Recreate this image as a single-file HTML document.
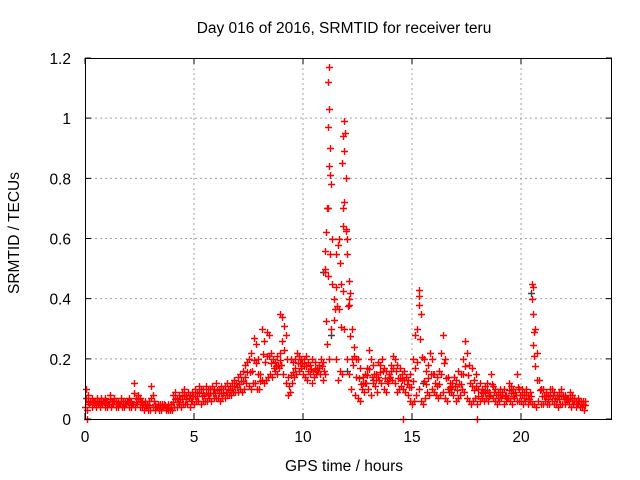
<!DOCTYPE html>
<html><head><meta charset="utf-8"><style>
html,body{margin:0;padding:0;background:#fff;}
svg{display:block;font-family:"Liberation Sans",sans-serif;}
</style></head><body>
<svg id="chart" width="640" height="480" viewBox="0 0 640 480">
<text x="344" y="33" text-anchor="middle" font-size="15.5" fill="#000">Day 016 of 2016, SRMTID for receiver teru</text>
<text x="344" y="471" text-anchor="middle" font-size="15.5" fill="#000">GPS time / hours</text>
<text transform="translate(19,233) rotate(-90)" text-anchor="middle" font-size="15.5" fill="#000">SRMTID / TECUs</text>
<g id="grid"></g><g id="marks"></g><g id="axes"></g>
</svg>
<script>
const xTicks=[0,5,10,15,20];
const yTicks=[0,0.2,0.4,0.6,0.8,1,1.2];
const yTickLabels=["0","0.2","0.4","0.6","0.8","1","1.2"];
const tStart=0, tStep=0.1;
const seriesA=[0.04,0.03,0.05,0.04,0.05,0.04,0.05,0.04,0.05,0.04,0.04,0.05,0.04,0.05,0.04,0.04,0.05,0.04,0.04,0.05,0.04,0.04,0.05,0.04,0.05,0.04,0.04,0.03,0.04,0.03,0.03,0.04,0.03,0.04,0.03,0.03,0.04,0.03,0.03,0.03,
0.03,0.04,0.04,0.05,0.04,0.05,0.05,0.05,0.04,0.06,0.05,0.06,0.06,0.05,0.06,0.06,0.06,0.07,0.06,0.07,0.07,0.07,0.06,0.07,0.07,0.08,0.08,0.08,0.09,0.09,
0.09,0.1,0.09,0.1,0.12,0.11,0.1,0.12,0.12,0.1,0.1,0.13,0.12,0.13,0.14,0.15,0.14,0.16,0.15,0.17,
0.18,0.15,0.12,0.08,0.09,0.12,0.14,0.15,0.16,0.17,0.15,0.14,0.13,0.15,0.12,0.14,0.15,0.16,0.15,0.13,
0.15,0.25,0.2,0.3,0.33,0.2,0.13,0.16,0.15,0.3,0.2,0.15,0.1,0.18,0.08,
0.07,0.06,0.1,0.09,0.12,0.1,0.08,0.12,0.11,0.09,0.13,0.12,0.1,0.09,0.12,0.14,0.13,0.12,0.09,0.1,0.11,0.1,0.09,0.08,0.06,
0.05,0.06,0.08,0.1,0.06,0.05,0.07,0.09,0.08,0.1,0.09,0.08,0.07,0.08,0.09,0.07,0.06,0.09,0.1,0.08,0.06,0.07,0.08,0.1,0.09,0.07,0.06,0.05,0.06,0.07,
0.05,0.06,0.07,0.06,0.07,0.06,0.08,0.07,0.06,0.05,0.06,0.07,0.05,0.06,0.07,0.06,0.05,0.07,0.06,0.06,0.06,0.05,0.06,0.05,0.06,0.05,0.05,0.04,0.06,0.05,0.05,0.06,0.05,0.05,0.06,0.05,0.05,0.04,0.05,0.05,0.05,0.06,0.05,0.04,0.05,0.04,0.05,0.04,0.04,0.03];
const seriesB=[0.1,0.08,0.06,0.07,0.06,0.07,0.06,0.07,0.06,0.07,0.06,0.08,0.06,0.07,0.06,0.06,0.07,0.06,0.06,0.06,0.07,0.06,0.12,0.07,0.08,0.07,0.06,0.06,0.05,0.06,0.11,0.08,0.05,0.05,0.05,0.05,0.05,0.04,0.05,0.05,
0.08,0.09,0.07,0.08,0.09,0.1,0.08,0.09,0.08,0.09,0.1,0.09,0.11,0.1,0.1,0.11,0.1,0.1,0.11,0.1,0.12,0.1,0.11,0.1,0.11,0.12,0.11,0.12,0.13,0.12,
0.14,0.15,0.16,0.18,0.19,0.2,0.22,0.27,0.25,0.2,0.15,0.3,0.26,0.29,0.28,0.22,0.2,0.19,0.21,0.22,
0.34,0.31,0.28,0.14,0.2,0.19,0.2,0.22,0.21,0.2,0.2,0.21,0.19,0.18,0.2,0.19,0.17,0.18,0.2,0.19,
0.5,0.7,0.9,0.6,0.4,0.55,0.6,0.45,0.7,0.95,0.55,0.4,0.3,0.24,0.2,
0.2,0.17,0.14,0.15,0.17,0.23,0.2,0.18,0.15,0.19,0.18,0.2,0.17,0.16,0.15,0.18,0.21,0.2,0.18,0.17,0.15,0.16,0.14,0.13,0.15,
0.2,0.28,0.3,0.43,0.35,0.2,0.16,0.18,0.22,0.2,0.15,0.14,0.16,0.22,0.28,0.2,0.14,0.12,0.12,0.14,0.13,0.16,0.15,0.2,0.26,0.22,0.18,0.17,0.13,0.15,
0.1,0.12,0.1,0.11,0.12,0.09,0.15,0.11,0.1,0.09,0.1,0.09,0.1,0.08,0.12,0.11,0.1,0.09,0.15,0.1,0.1,0.09,0.1,0.08,0.09,0.44,0.3,0.22,0.13,0.1,0.1,0.09,0.08,0.1,0.1,0.09,0.08,0.09,0.1,0.08,0.08,0.07,0.09,0.08,0.07,0.06,0.07,0.06,0.06,0.06];
const spikeT=[11.2,11.15,11.2,11.15,11.2,11.25,11.3,11.1,11.05,11.0,11.0,11.9,11.85,11.9,11.8,11.95,11.9,11.85,11.95,12.0,12.1,12.15,12.1,11.6,11.7,11.5,15.3,15.3,20.5,20.5,20.55,20.6,20.6,8.95,0.1,14.6,18.0];
const spikeV=[1.17,1.12,1.03,0.97,0.84,0.81,0.78,0.7,0.62,0.56,0.49,0.99,0.94,0.89,0.85,0.8,0.72,0.64,0.63,0.6,0.46,0.42,0.38,0.58,0.52,0.44,0.41,0.38,0.45,0.4,0.35,0.29,0.21,0.35,0.0,0.0,0.0];
const grayT=[10.9,11.3,12.0,15.5,20.45,9.0,16.8,13.2];
const grayV=[0.49,0.28,0.16,0.12,0.42,0.18,0.09,0.13];

const L=85,R=612,T=58,B=419,XMAX=(R-L)/21.8,YMAX=1.2;
const xs=v=>L+v/XMAX*(R-L);
const ys=v=>B-v/YMAX*(B-T);
const NS="http://www.w3.org/2000/svg";
function mk(tag,attrs,parent){const e=document.createElementNS(NS,tag);for(const k in attrs)e.setAttribute(k,attrs[k]);parent.appendChild(e);return e;}
const grid=document.getElementById('grid'),marks=document.getElementById('marks'),axes=document.getElementById('axes');
xTicks.forEach((t,i)=>{
 if(t>0){const g=mk('line',{x1:xs(t),x2:xs(t),y1:T,y2:B,stroke:'#a0a0a0','stroke-dasharray':'2,3','stroke-width':1},grid);
 
 }
 const tk=mk('path',{d:`M${xs(t)},${B}v-6M${xs(t)},${T}v6`,stroke:'#000','stroke-width':1,fill:'none'},axes);
 
 
 const lb=mk('text',{x:xs(t),y:B+23,'text-anchor':'middle','font-size':15.5},axes);lb.textContent=String(t);
 
 
});
yTicks.forEach((v,i)=>{
 if(v>0&&v<YMAX){const g=mk('line',{x1:L,x2:R,y1:ys(v),y2:ys(v),stroke:'#a0a0a0','stroke-dasharray':'2,3','stroke-width':1},grid);
 
 }
 const tk=mk('path',{d:`M${L},${ys(v)}h6M${R},${ys(v)}h-6`,stroke:'#000','stroke-width':1,fill:'none'},axes);
 
 
 const lb=mk('text',{x:L-14,y:ys(v)+6,'text-anchor':'end','font-size':15.5},axes);lb.textContent=yTickLabels[i];
 
 
});
const frame=mk('rect',{x:L+0.5,y:T+0.5,width:R-L-1,height:B-T,fill:'none',stroke:'#000','stroke-width':1},axes);


function plus(t,v,color,name){
 const x=Math.round(xs(t))+0.5,y=Math.round(ys(v))+0.5;
 const p=mk('path',{d:`M${x-3.5},${y}h7M${x},${y-3.5}v7`,stroke:color,'stroke-width':1.4,fill:'none'},marks);
 
 
}
grayT.forEach((t,i)=>plus(t,grayV[i],'#404040','gray-point'));
seriesA.forEach((v,i)=>{const t=tStart+i*tStep;plus(t,v,'#ff0000','srmtid-point');plus(t+0.05,(v+seriesB[i])/2,'#ff0000','srmtid-point');});
seriesB.forEach((v,i)=>{const t=tStart+i*tStep;plus(t+0.03,v,'#ff0000','srmtid-point');});
spikeT.forEach((t,i)=>plus(t,spikeV[i],'#ff0000','srmtid-spike-point'));
</script>
</body></html>
